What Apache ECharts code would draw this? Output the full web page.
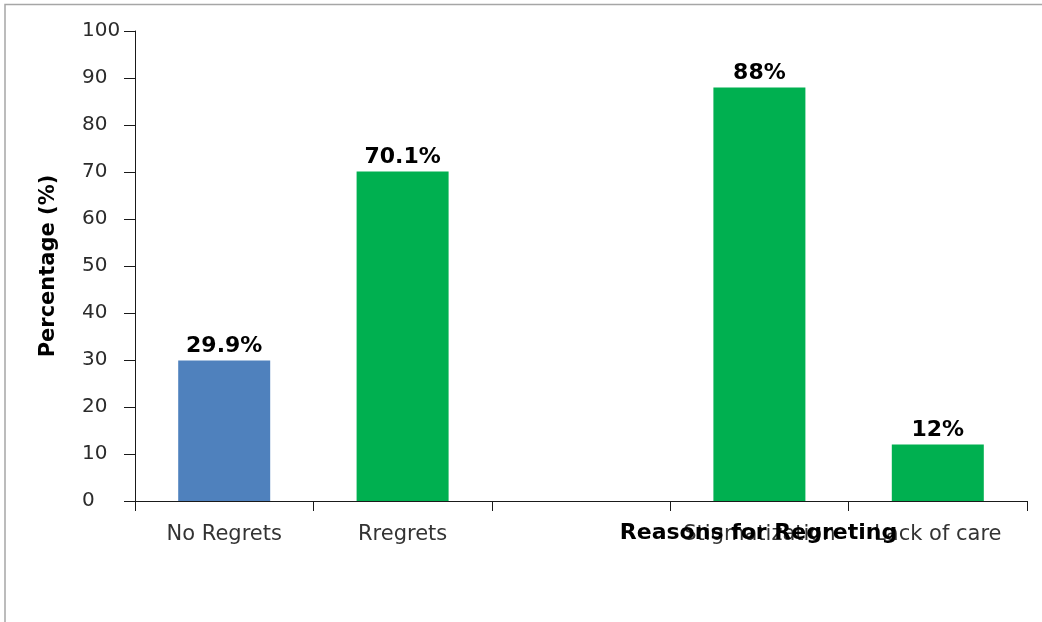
<!DOCTYPE html>
<html>
<head>
<meta charset="utf-8">
<script src="https://cdn.jsdelivr.net/npm/echarts@6/dist/echarts.min.js"></script>
<style>
  html, body { margin: 0; padding: 0; background: #fff; }
  #chart { width: 1042px; height: 622px; }
</style>
</head>
<body>
<div id="chart"></div>
<script>
// Survey responses: share with / without regrets, then the reasons given
const categories = ['No Regrets', 'Rregrets', '', 'Stigmatization', 'Lack of care'];
const percentages = [29.9, 70.1, null, 88, 12];
const barColors = ['#4F81BD', '#00B050', '#00B050', '#00B050', '#00B050'];
const yTicks = { min: 0, max: 100, interval: 10 };
const yTitle = 'Percentage (%)';
const xTitle = 'Reasons for Regreting';

const FONT = 'DejaVu Sans';
const chart = echarts.init(document.getElementById('chart'), null, { renderer: 'canvas' });

chart.setOption({
  animation: false,
  backgroundColor: '#ffffff',
  textStyle: { fontFamily: FONT },
  grid: { left: 135, right: 15, top: 31, bottom: 121, containLabel: false, outerBoundsMode: 'none' },
  graphic: [
    {
      type: 'rect',
      shape: { x: 5, y: 4.5, width: 2000, height: 2000 },
      style: { fill: 'none', stroke: '#a6a6a6', lineWidth: 1.5 },
      silent: true, z: 0
    },
    {
      type: 'text',
      x: 758.5, y: 533,
      style: {
        text: xTitle, fontFamily: FONT, fontWeight: 'bold', fontSize: 22,
        fill: '#000', align: 'center', verticalAlign: 'middle'
      },
      z: 100
    }
  ],
  xAxis: {
    type: 'category',
    data: categories,
    boundaryGap: true,
    axisLine: { lineStyle: { color: '#1a1a1a', width: 1 } },
    axisTick: { show: true, alignWithLabel: false, length: 10, lineStyle: { color: '#1a1a1a' } },
    axisLabel: { interval: 0, margin: 23, color: '#333', fontSize: 21, fontFamily: FONT },
    splitLine: { show: false }
  },
  yAxis: {
    type: 'value',
    min: yTicks.min, max: yTicks.max, interval: yTicks.interval,
    name: yTitle,
    nameLocation: 'middle',
    nameRotate: 90,
    nameGap: 76,
    nameTextStyle: { fontFamily: FONT, fontWeight: 'bold', fontSize: 21, color: '#000' },
    axisLine: { show: true, lineStyle: { color: '#1a1a1a', width: 1 } },
    axisTick: { show: true, length: 11, lineStyle: { color: '#1a1a1a' } },
    axisLabel: { align: 'left', margin: 53, color: '#2b2b2b', fontSize: 20, fontFamily: FONT },
    splitLine: { show: false }
  },
  series: [{
    type: 'bar',
    data: percentages.map((v, i) => ({ value: v, itemStyle: { color: barColors[i] } })),
    barWidth: 92,
    label: {
      show: true,
      position: 'top',
      distance: 3,
      formatter: p => (p.value == null ? '' : p.value + '%'),
      color: '#000', fontWeight: 'bold', fontSize: 22, fontFamily: FONT
    }
  }]
});
</script>
</body>
</html>
